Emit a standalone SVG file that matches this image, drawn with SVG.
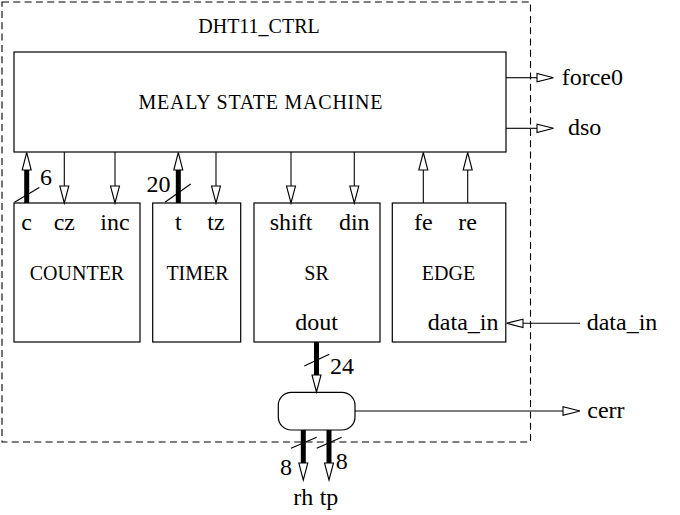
<svg xmlns="http://www.w3.org/2000/svg" width="680" height="515" viewBox="0 0 680 515">
<style>
.box{fill:#fff;stroke:#000;stroke-width:1.2}
.ln{fill:none;stroke:#000;stroke-width:1.1}
.bus{fill:none;stroke:#000;stroke-width:5}
.ah{fill:#fff;stroke:#000;stroke-width:1.1}
.cap{font-family:"Liberation Serif","Times New Roman",serif;font-size:20px;fill:#000;text-anchor:middle}
.lbl{font-family:"Liberation Serif","Times New Roman",serif;font-size:24px;fill:#000}
.mid{text-anchor:middle}
.end{text-anchor:end}
</style>
<rect width="680" height="515" fill="#fff"/>
<g id="dht11_ctrl">
<rect x="2" y="2" width="528.5" height="440" fill="none" stroke="#000" stroke-width="1.1" stroke-dasharray="7,4.3"/>
<text class="cap" x="259" y="33">DHT11_CTRL</text>
</g>
<g id="fsm">
<rect class="box" x="14" y="52" width="492" height="100"/>
<text class="cap" x="260.5" y="109" textLength="244" lengthAdjust="spacing">MEALY STATE MACHINE</text>
</g>
<g id="counter">
<rect class="box" x="14" y="203" width="126" height="139"/>
<text class="lbl mid" x="26.7" y="229.5">c</text>
<text class="lbl mid" x="64.3" y="229.5">cz</text>
<text class="lbl mid" x="115" y="229.5">inc</text>
<text class="cap" x="77" y="279.5">COUNTER</text>
</g>
<g id="timer">
<rect class="box" x="152.7" y="203" width="88" height="139"/>
<text class="lbl mid" x="178.3" y="229.5">t</text>
<text class="lbl mid" x="216" y="229.5">tz</text>
<text class="cap" x="197.5" y="279.5">TIMER</text>
</g>
<g id="sr">
<rect class="box" x="254" y="203" width="126" height="139"/>
<text class="lbl mid" x="291" y="229.5">shift</text>
<text class="lbl mid" x="354.3" y="229.5">din</text>
<text class="cap" x="316.5" y="279.5">SR</text>
<text class="lbl mid" x="316.7" y="329.5">dout</text>
</g>
<g id="edge">
<rect class="box" x="392.3" y="203" width="113.5" height="139"/>
<text class="lbl mid" x="423.3" y="229.5">fe</text>
<text class="lbl mid" x="467.7" y="229.5">re</text>
<text class="cap" x="448.5" y="279.5">EDGE</text>
<text class="lbl end" x="498.5" y="329.5">data_in</text>
</g>
<g id="mux">
<rect class="box" x="278.3" y="392.3" width="76.7" height="37.7" rx="13" ry="13"/>
</g>
<g id="connectors">
<!-- c bus up -->
<line class="bus" x1="26.7" y1="203" x2="26.7" y2="170"/>
<polygon class="ah" points="26.7,152.5 22.2,170 31.2,170"/>
<line class="ln" x1="14.5" y1="202.3" x2="39.3" y2="187.5"/>
<text class="lbl" x="40" y="185">6</text>
<!-- cz -->
<line class="ln" x1="64.3" y1="152" x2="64.3" y2="186"/>
<polygon class="ah" points="64.3,203 59.8,186 68.8,186"/>
<!-- inc -->
<line class="ln" x1="115" y1="152" x2="115" y2="186"/>
<polygon class="ah" points="115,203 110.5,186 119.5,186"/>
<!-- t bus up -->
<line class="bus" x1="178.3" y1="203" x2="178.3" y2="170"/>
<polygon class="ah" points="178.3,152.5 173.8,170 182.8,170"/>
<line class="ln" x1="165" y1="202.3" x2="190.7" y2="184"/>
<text class="lbl" x="146.5" y="191.5">20</text>
<!-- tz -->
<line class="ln" x1="216" y1="152" x2="216" y2="186"/>
<polygon class="ah" points="216,203 211.5,186 220.5,186"/>
<!-- shift -->
<line class="ln" x1="291" y1="152" x2="291" y2="186"/>
<polygon class="ah" points="291,203 286.5,186 295.5,186"/>
<!-- din -->
<line class="ln" x1="354.3" y1="152" x2="354.3" y2="186"/>
<polygon class="ah" points="354.3,203 349.8,186 358.8,186"/>
<!-- fe -->
<line class="ln" x1="423.3" y1="203" x2="423.3" y2="170"/>
<polygon class="ah" points="423.3,152.5 418.8,170 427.8,170"/>
<!-- re -->
<line class="ln" x1="467.7" y1="203" x2="467.7" y2="170"/>
<polygon class="ah" points="467.7,152.5 463.2,170 472.2,170"/>
<!-- force0 -->
<line class="ln" x1="506" y1="77.7" x2="537" y2="77.7"/>
<polygon class="ah" points="553.5,77.7 537,73.5 537,81.9"/>
<text class="lbl" x="561.7" y="84.5">force0</text>
<!-- dso -->
<line class="ln" x1="506" y1="128.3" x2="537" y2="128.3"/>
<polygon class="ah" points="553.5,128.3 537,124.1 537,132.5"/>
<text class="lbl" x="568" y="134.5">dso</text>
<!-- data_in -->
<line class="ln" x1="580" y1="323.3" x2="523" y2="323.3"/>
<polygon class="ah" points="506.5,323.3 523,319.1 523,327.5"/>
<text class="lbl" x="586.7" y="329.5">data_in</text>
<!-- dout bus -->
<line class="bus" x1="316.5" y1="342" x2="316.5" y2="375"/>
<polygon class="ah" points="316.5,392 312,375 321,375"/>
<line class="ln" x1="304.3" y1="366" x2="329.3" y2="354.3"/>
<text class="lbl" x="330" y="373.5">24</text>
<!-- cerr -->
<line class="ln" x1="355" y1="411" x2="563" y2="411"/>
<polygon class="ah" points="580,411 563,406.8 563,415.2"/>
<text class="lbl" x="587.3" y="418">cerr</text>
<!-- rh bus -->
<line class="bus" x1="303.3" y1="430" x2="303.3" y2="463"/>
<polygon class="ah" points="303.3,480 298.8,463 307.8,463"/>
<line class="ln" x1="291" y1="448.3" x2="316.7" y2="437.3"/>
<text class="lbl" x="280" y="475">8</text>
<!-- tp bus -->
<line class="bus" x1="329" y1="430" x2="329" y2="463"/>
<polygon class="ah" points="329,480 324.5,463 333.5,463"/>
<line class="ln" x1="316.7" y1="448.3" x2="341.7" y2="437.3"/>
<text class="lbl" x="335.7" y="468.5">8</text>
<text class="lbl mid" x="303.3" y="505">rh</text>
<text class="lbl mid" x="329" y="505">tp</text>
</g>
</svg>
